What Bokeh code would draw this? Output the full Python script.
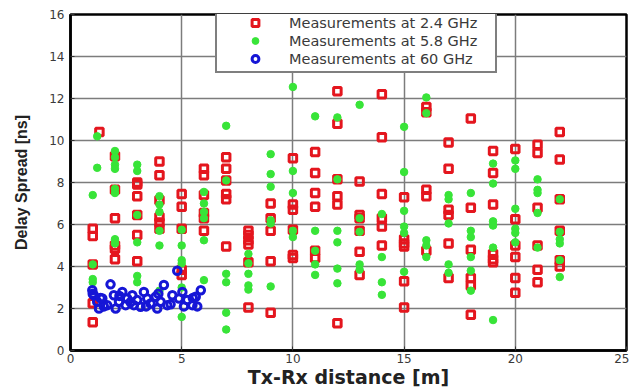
from bokeh.plotting import figure
from bokeh.models import Range1d, Legend, LegendItem, FixedTicker
from bokeh.embed import file_html
from bokeh.resources import INLINE

# ---- data ----
x24 = [1]*5 + [1.3] + [2]*6 + [3]*6 + [4]*6 + [5]*5 + [6]*6 + [7]*6 + [8]*6 + [9]*5 + [10]*6 \
    + [11]*6 + [12]*6 + [13]*6 + [14]*6 + [15]*6 + [16]*5 + [17]*6 + [18]*6 + [19]*6 + [20]*6 + [21]*6 + [22]*6
y24 = [1.35, 2.25, 4.1, 5.45, 5.8, 10.4,
       9.25, 7.65, 6.3, 5.0, 4.85, 4.35,
       8.0, 7.9, 7.35, 6.45, 5.5, 4.25,
       9.0, 8.35, 7.15, 6.35, 6.1, 5.8,
       7.45, 6.85, 5.8, 3.85, 3.6,
       8.65, 8.35, 7.4, 6.55, 6.3, 5.7,
       9.2, 8.65, 8.1, 7.45, 7.2, 4.95,
       5.7, 5.5, 5.25, 5.05, 4.2, 2.05,
       7.0, 6.3, 5.7, 4.25, 1.8,
       9.15, 6.95, 6.7, 5.75, 4.55, 4.4,
       9.45, 8.45, 7.5, 6.85, 4.75, 4.4,
       12.35, 10.8, 8.15, 7.35, 6.95, 1.3,
       8.05, 6.45, 6.3, 5.7, 4.7, 3.6,
       12.2, 10.15, 7.45, 6.3, 5.9, 5.0,
       7.3, 5.3, 5.1, 4.95, 3.3, 2.05,
       11.6, 11.35, 7.65, 7.35, 4.75,
       9.9, 8.65, 6.7, 6.45, 5.1, 3.45,
       11.05, 6.8, 4.8, 3.45, 3.1, 1.7,
       9.5, 8.45, 6.95, 4.6, 4.35, 4.2,
       9.6, 6.25, 5.0, 4.45, 3.45, 2.75,
       9.8, 9.4, 6.8, 5.0, 3.85, 3.25,
       10.4, 9.1, 7.2, 5.7, 4.3, 4.0]

x58 = [1.2] + [1]*4 + [1.2] + [2]*8 + [3]*6 + [4]*6 + [5]*6 + [6]*6 + [7]*6 + [8]*5 + [9]*6 + [10]*5 \
    + [11]*5 + [12]*6 + [13]*5 + [14]*4 + [15]*6 + [16]*5 + [17]*5 + [18]*6 + [19]*6 + [20]*6 + [21]*5 + [22]*6
y58 = [10.2, 7.4, 4.1, 3.4, 3.25, 8.7,
       9.5, 9.2, 8.85, 8.65, 7.7, 7.5, 5.3, 5.1,
       8.85, 8.55, 6.45, 5.15, 3.55, 3.25,
       7.35, 6.95, 6.6, 5.7, 5.0, 2.85,
       5.75, 5.0, 4.3, 4.15, 3.0, 1.6,
       7.55, 7.0, 6.6, 6.3, 5.25, 3.35,
       10.7, 8.1, 3.65, 3.25, 1.8, 1.0,
       4.6, 4.15, 3.65, 3.1, 2.9,
       9.35, 8.4, 7.8, 6.2, 6.05, 3.05,
       12.55, 8.55, 7.5, 5.7, 5.4,
       11.15, 5.7, 4.75, 4.1, 3.6,
       11.1, 8.15, 5.7, 5.15, 3.9, 3.2,
       11.7, 6.3, 5.65, 4.1, 3.85,
       6.5, 4.45, 3.25, 2.65,
       10.65, 8.5, 6.65, 5.9, 5.6, 3.75,
       12.05, 11.3, 5.25, 5.0, 4.45,
       7.4, 7.2, 6.05, 4.1, 3.7,
       7.5, 5.7, 5.4, 4.45, 3.8, 2.85,
       8.9, 7.95, 6.15, 5.95, 4.9, 1.45,
       9.05, 8.65, 6.75, 5.8, 5.6, 5.15,
       8.15, 7.65, 7.5, 6.55, 4.9,
       7.2, 5.65, 5.3, 5.1, 4.3, 3.5]

x60 = [0.98, 1.05, 1.2, 1.28, 1.43, 1.65, 1.8, 1.95, 2.03, 2.18, 2.33, 2.48, 2.55, 2.78, 2.85,
       3.0, 3.15, 3.3, 3.45, 3.6, 3.83, 3.9, 4.05, 4.2, 4.35, 4.58, 4.8, 4.88, 5.03, 5.25,
       5.48, 5.63, 5.86, 1.0, 1.5, 2.2, 2.7, 3.4, 3.95, 4.5, 5.1, 5.5, 5.7, 1.35]
y60 = [2.87, 2.63, 2.32, 2.0, 2.48, 2.16, 3.15, 2.63, 2.0, 2.32, 2.79, 2.16, 2.48, 2.63, 2.16,
       2.4, 2.08, 2.79, 2.48, 2.24, 2.56, 2.0, 2.32, 3.12, 2.16, 2.63, 3.8, 2.48, 2.79, 2.4,
       2.16, 2.56, 2.87, 2.7, 2.1, 2.6, 2.3, 2.1, 2.7, 2.2, 2.1, 2.5, 2.1, 2.5]

labels = ["Measurements at 2.4 GHz", "Measurements at 5.8 GHz", "Measurements at 60 GHz"]
x_ticks = [0, 5, 10, 15, 20, 25]
y_ticks = [0, 2, 4, 6, 8, 10, 12, 14, 16]

FONT = "DejaVu Sans"

p = figure(width=629, height=390, output_backend="svg", toolbar_location=None,
           x_range=Range1d(0, 25), y_range=Range1d(0, 16),
           min_border_left=70, min_border_right=3, min_border_top=14, min_border_bottom=38)

p.outline_line_color = "black"
p.outline_line_width = 2.5
p.background_fill_color = "white"
p.border_fill_color = "white"

for ax in (p.xaxis[0], p.yaxis[0]):
    ax.major_label_text_font = FONT
    ax.major_label_text_font_size = "12px"
    ax.major_label_text_color = "#3a3a3a"
    ax.axis_label_text_font_style = "bold"
    ax.axis_label_text_color = "#222222"
    ax.axis_line_color = "black"
    ax.axis_line_width = 2.5
    ax.major_tick_in = 4
    ax.major_tick_out = 0
    ax.minor_tick_line_color = None
    ax.major_tick_line_color = "#333333"

p.xaxis[0].axis_label_text_font = "DejaVu Sans"
p.xaxis[0].axis_label_text_font_size = "19px"
p.yaxis[0].axis_label_text_font = "Liberation Sans"
p.yaxis[0].axis_label_text_font_size = "16px"

p.xaxis[0].ticker = FixedTicker(ticks=x_ticks)
p.yaxis[0].ticker = FixedTicker(ticks=y_ticks)
p.xaxis[0].axis_label = "Tx-Rx distance [m]"
p.yaxis[0].axis_label = "Delay Spread [ns]"
p.xaxis[0].major_label_standoff = 3
p.xaxis[0].axis_label_standoff = 0
p.yaxis[0].major_label_standoff = 6
p.yaxis[0].axis_label_standoff = 16

p.xgrid.ticker = FixedTicker(ticks=x_ticks)
p.ygrid.ticker = FixedTicker(ticks=y_ticks)
for g in (p.xgrid[0], p.ygrid[0]):
    g.grid_line_color = "#7c7c7c"
    g.grid_line_width = 1.5

r24 = p.scatter(x24, y24, marker="square", size=7.5, fill_color=None,
                line_color="#e4161e", line_width=3)
r58 = p.scatter(x58, y58, marker="circle", size=7.5, fill_color="#38e438",
                line_color="#38e438", line_width=1)
r60 = p.scatter(x60, y60, marker="circle", size=7.5, fill_color=None,
                line_color="#1616d6", line_width=3)

legend = Legend(items=[LegendItem(label=labels[0], renderers=[r24]),
                       LegendItem(label=labels[1], renderers=[r58]),
                       LegendItem(label=labels[2], renderers=[r60])],
                location=(145, 277))
legend.border_line_color = "black"
legend.border_line_width = 2.5
legend.background_fill_color = "white"
legend.background_fill_alpha = 1
legend.label_text_font = FONT
legend.label_text_font_size = "14.5px"
legend.label_text_color = "#3a3a3a"
legend.glyph_width = 68
legend.glyph_height = 17
legend.label_height = 17
legend.label_width = 202
legend.label_standoff = 0
legend.spacing = 1
legend.padding = 4
legend.margin = 0
p.add_layout(legend, "center")

open("out.html", "w").write(file_html(p, INLINE))
